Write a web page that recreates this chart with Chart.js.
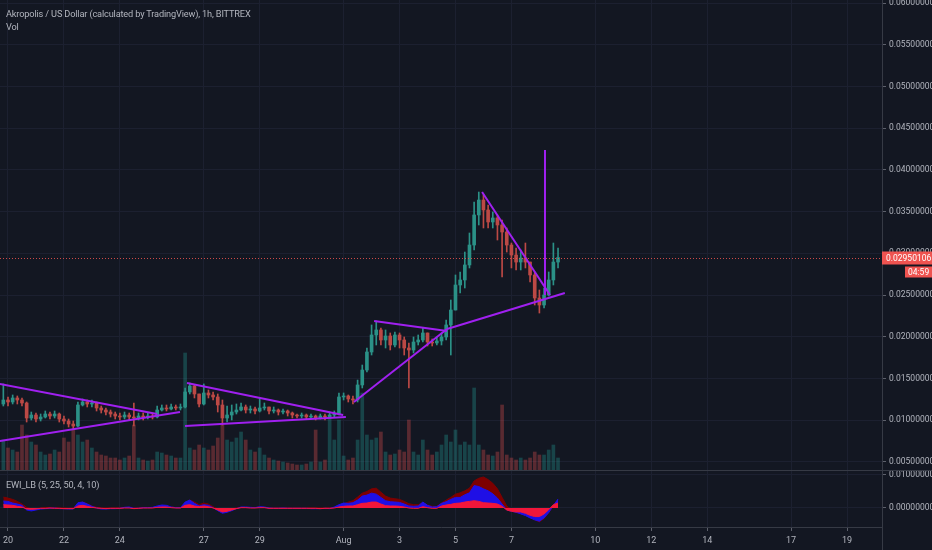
<!DOCTYPE html>
<html>
<head>
<meta charset="utf-8">
<script src="https://cdn.jsdelivr.net/npm/chart.js@4.4.0/dist/chart.umd.min.js"></script>
<style>
  html, body { margin: 0; padding: 0; background: #131722; }
  #wrap { position: relative; width: 932px; height: 550px; overflow: hidden; background: #131722; }
  #priceChart { position: absolute; left: 0; top: 0; }
  #ewiChart { position: absolute; left: 0; top: 471px; }
  .sep { position: absolute; left: 0; top: 470px; width: 932px; height: 1px; background: #363a45; }
  .vline { position: absolute; left: 882px; top: 527px; width: 1px; height: 23px; background: #363a45; }
  .lbl { position: absolute; left: 6px; color: #b2b5be; font-family: "Roboto", sans-serif; font-size: 9.2px; letter-spacing: -0.15px; line-height: 12px; white-space: nowrap; }
</style>
</head>
<body>
<div id="wrap">
  <canvas id="priceChart" width="932" height="470"></canvas>
  <div class="sep"></div>
  <canvas id="ewiChart" width="932" height="79"></canvas>
  <div class="vline"></div>
  <div class="lbl" style="top:8px">Akropolis / US Dollar (calculated by TradingView), 1h, BITTREX</div>
  <div class="lbl" style="top:21px">Vol</div>
  <div class="lbl" style="top:479px">EWI_LB (5, 25, 50, 4, 10)</div>
</div>
<script>
// time axis: days counted from 20 Jul 00:00
var tickDays   = [0, 2, 4, 7, 9, 12, 14, 16, 18, 21, 23, 25, 28, 30];
var tickLabels = ['20', '22', '24', '27', '29', 'Aug', '3', '5', '7', '10', '12', '14', '17', '19'];
var priceTicks = [0.005, 0.01, 0.015, 0.02, 0.025, 0.03, 0.035, 0.04, 0.045, 0.05, 0.055, 0.06];
var ewiTicks   = [0, 10];   // in 1e-3

// candles, 4h apart, first one 19 Jul 20:00
var candleStartDay = -1 / 6;
var candleStepDay = 4 / 24;
var firstOpen = 0.01195;
var closes = [
  0.01243,0.01219,0.01267,0.01243,0.01207,0.01027,0.01063,0.01015,0.01039,0.01075,
  0.01051,0.01075,0.01015,0.00991,0.00955,0.00931,0.01183,0.01219,0.01195,0.01207,
  0.01147,0.01123,0.01099,0.01075,0.01051,0.01039,0.01063,0.01039,0.01027,0.01051,
  0.01039,0.01051,0.01039,0.01123,0.01147,0.01135,0.01159,0.01147,0.01159,0.01339,
  0.01411,0.01315,0.01195,0.01327,0.01303,0.01279,0.01183,0.01027,0.01063,0.01099,
  0.01123,0.01159,0.01123,0.01135,0.01111,0.01147,0.01159,0.01111,0.01123,0.01099,
  0.01111,0.01087,0.01063,0.01051,0.01063,0.01039,0.01051,0.01027,0.01051,0.01039,
  0.01063,0.01075,0.01279,0.01291,0.01255,0.01243,0.01423,0.01602,0.01818,0.02022,
  0.02082,0.01962,0.02010,0.01902,0.02022,0.01962,0.01866,0.01842,0.01938,0.01962,
  0.02046,0.01938,0.01926,0.01950,0.01998,0.02142,0.02321,0.02621,0.02681,0.02861,
  0.03100,0.03460,0.03639,0.03520,0.03376,0.03424,0.03340,0.03256,0.03100,0.02980,
  0.02896,0.02944,0.02896,0.02741,0.02465,0.02381,0.02501,0.02681,0.02896,0.02950
];
var highs = [
  0.01435,0.01279,0.01303,0.01291,0.01267,0.01219,0.01099,0.01087,0.01075,0.01111,
  0.01099,0.01111,0.01087,0.01051,0.01015,0.00991,0.01219,0.01255,0.01243,0.01243,
  0.01219,0.01171,0.01147,0.01123,0.01099,0.01087,0.01099,0.01087,0.01207,0.01087,
  0.01087,0.01087,0.01075,0.01171,0.01183,0.01183,0.01195,0.01183,0.01195,0.01387,
  0.01446,0.01423,0.01315,0.01435,0.01363,0.01339,0.01315,0.01243,0.01171,0.01183,
  0.01195,0.01207,0.01183,0.01171,0.01159,0.01267,0.01207,0.01159,0.01159,0.01135,
  0.01135,0.01123,0.01099,0.01075,0.01087,0.01075,0.01075,0.01063,0.01075,0.01075,
  0.01099,0.01111,0.01327,0.01327,0.01303,0.01291,0.01482,0.01662,0.01866,0.02142,
  0.02189,0.02106,0.02082,0.02046,0.02058,0.02046,0.01998,0.01926,0.01998,0.02022,
  0.02106,0.02046,0.01974,0.01998,0.02046,0.02201,0.02441,0.02741,0.02777,0.03016,
  0.03244,0.03615,0.03735,0.03699,0.03580,0.03496,0.03460,0.03400,0.03304,0.03124,
  0.03064,0.03040,0.03124,0.02896,0.02777,0.02561,0.02585,0.02777,0.03124,0.03064
];
var lows = [
  0.01171,0.01171,0.01195,0.01195,0.01171,0.00979,0.01003,0.00979,0.00991,0.01027,
  0.01015,0.01027,0.00979,0.00955,0.00919,0.00895,0.00919,0.01171,0.01159,0.01159,
  0.01111,0.01087,0.01063,0.01039,0.01015,0.01003,0.01015,0.01003,0.00931,0.01003,
  0.01003,0.01015,0.01015,0.01027,0.01111,0.01111,0.01123,0.01123,0.01123,0.01147,
  0.01315,0.01267,0.01159,0.01183,0.01267,0.01243,0.01099,0.00943,0.00979,0.01003,
  0.01075,0.01111,0.01087,0.01087,0.01075,0.01099,0.01123,0.01075,0.01087,0.01063,
  0.01075,0.01051,0.01027,0.01027,0.01027,0.01015,0.01015,0.01003,0.01015,0.01003,
  0.01027,0.01039,0.01063,0.01243,0.01219,0.01195,0.01219,0.01387,0.01578,0.01782,
  0.01902,0.01902,0.01866,0.01842,0.01878,0.01866,0.01782,0.01387,0.01806,0.01902,
  0.01938,0.01890,0.01890,0.01902,0.01902,0.01962,0.01782,0.02321,0.02525,0.02585,
  0.02825,0.03040,0.03340,0.03304,0.03304,0.03304,0.03160,0.02717,0.03016,0.02825,
  0.02801,0.02801,0.02825,0.02657,0.02381,0.02285,0.02345,0.02489,0.02621,0.02825
];
// volume, thousands
var volumes = [
  30,22,20,18,45,35,28,25,18,15,
  16,20,18,32,28,40,35,28,30,22,
  18,15,14,12,12,10,12,14,45,12,
  10,9,10,18,17,15,14,12,12,117,
  22,20,25,22,20,24,32,45,30,28,
  32,38,30,20,18,22,15,12,10,9,
  8,7,6,5,5,6,8,40,8,10,
  55,30,50,14,10,12,30,77,35,30,
  32,38,18,15,16,20,18,50,18,15,
  30,20,15,18,25,35,28,40,25,28,
  25,82,25,20,15,14,18,65,15,12,
  10,12,10,12,18,15,15,20,25,12
];
var volMax = 470;

// EWI_LB lines, in 1e-3
var ewiDark = [
  3.3,3.0,2.6,2.0,1.2,0.2,-0.3,-0.2,0.0,0.1,
  0.1,0.1,0.0,0.0,-0.1,0.0,1.2,1.8,1.3,0.6,
  0.2,0,0,0,0,0,0.1,0.1,0,0,
  0.1,0.1,0.1,0.4,0.7,0.6,0.3,0.1,0.1,1.5,
  2.4,1.8,1.0,1.5,1.2,0.4,-0.3,-0.8,-0.6,-0.3,
  0,0.2,0.2,0.1,0.1,0.3,0.2,0,0,0,
  0,0,0,0,0,0,0,0,0,0,
  0,0.1,0.6,1.2,1.8,2.2,3.3,4.5,5.0,5.8,
  6.0,4.8,3.6,3.0,2.8,2.6,2.0,1.3,1.0,1.0,
  1.6,0.9,0.5,0.5,1.5,2.4,3.2,4.2,4.6,5.2,
  6.0,8.2,9.0,9.4,8.6,7.5,5.8,3.2,0.6,-0.5,
  -0.8,-1.0,-1.6,-2.6,-3.6,-4.2,-3.2,-1.4,0.6,1.8
];
var ewiBlue = [
  2.1,2.0,1.5,1.2,0.8,-0.6,-0.9,-0.6,-0.3,-0.2,
  -0.1,0,-0.2,-0.2,-0.3,-0.3,1.6,1.8,1.2,0.5,
  0,-0.3,-0.3,-0.2,-0.2,-0.1,0.2,0.3,-0.1,-0.1,
  0.1,0.1,0.2,0.6,0.9,0.8,0.3,0.1,0.1,1.8,
  2.4,1.4,0.6,1.0,0.8,0.1,-0.8,-1.6,-1.3,-0.8,
  -0.2,0.3,0.3,0.2,0.1,0.4,0.3,0,-0.1,-0.1,
  0,-0.1,-0.1,-0.1,-0.1,-0.1,-0.2,-0.2,-0.2,-0.1,
  -0.2,0.3,1.0,1.5,1.4,1.6,2.4,3.6,3.9,4.5,
  4.2,3.2,2.2,1.9,1.8,1.7,1.2,0.6,0.5,0.6,
  1.8,0.8,0.3,0.4,1.4,1.9,2.6,3.2,3.2,4.0,
  4.6,6.8,6.5,5.8,5.2,4.3,3.0,1.2,-0.6,-1.0,
  -1.3,-1.8,-2.3,-3.0,-3.6,-4.0,-3.0,-1.4,0.8,2.7
];
var ewiRed = [
  1.0,0.9,0.8,0.5,0.3,-0.3,-0.4,-0.3,-0.1,-0.1,
  0,-0.1,-0.1,-0.2,-0.2,-0.2,0.6,0.8,0.5,0.2,
  0,-0.1,-0.2,-0.1,-0.1,-0.1,0,0,-0.2,-0.1,
  0,0,0,0.2,0.3,0.3,0.1,0,0,0.8,
  1.0,0.6,0.4,0.6,0.4,0,-0.6,-1.2,-1.0,-0.6,
  -0.2,0.1,0.1,0,0,0.1,0.1,-0.1,-0.1,-0.1,
  -0.1,-0.1,-0.1,-0.1,-0.1,-0.1,-0.1,-0.1,-0.2,-0.1,
  -0.1,0,0.3,0.5,0.6,0.6,1.0,1.4,1.5,1.8,
  1.8,1.2,0.7,0.6,0.6,0.5,0.3,0,-0.1,-0.1,
  0.4,0.1,-0.1,-0.1,0.6,0.9,1.1,1.4,1.5,1.8,
  2.0,2.2,2.0,1.6,1.5,1.4,1.2,0.5,-0.6,-1.0,
  -1.2,-1.2,-1.6,-2.2,-2.6,-2.6,-1.8,-0.5,1.0,1.5
];

// drawn trend lines: [day1, price1, day2, price2]
var trendLines = [
  [-0.29, 0.01434, 5.33, 0.01075],
  [-0.29, 0.00751, 6.15, 0.01099],
  [6.40, 0.01446, 11.98, 0.01063],
  [6.33, 0.00931, 12.08, 0.01039],
  [12.37, 0.01219, 15.70, 0.02093],
  [13.09, 0.02189, 15.70, 0.02070],
  [15.70, 0.02093, 19.91, 0.02525],
  [16.95, 0.03735, 19.38, 0.02501],
  [19.20, 0.04240, 19.20, 0.02500]
];
var lastPrice = 0.02950106;
var countdown = '04:59';

var gridColor = '#1c2030';
var textColor = '#b2b5be';
var axisFont = { family: "'Roboto', sans-serif", size: 8.5 };
var upColor = '#2b9187', downColor = '#bc4945';
var upVol = 'rgba(38,166,154,0.32)', downVol = 'rgba(239,83,80,0.32)';
var trendColor = '#a020f0';
var xMin = -0.286, xMax = 31.25;

var wickData = [], bodyData = [], volData = [], upFlags = [];
for (var i = 0; i < closes.length; i++) {
  var t = candleStartDay + i * candleStepDay;
  var o = i === 0 ? firstOpen : closes[i - 1];
  upFlags.push(closes[i] >= o);
  wickData.push({ x: t, y: [lows[i], highs[i]] });
  bodyData.push({ x: t, y: [o, closes[i]] });
  volData.push({ x: t, y: volumes[i] });
}
function candleColor(ctx) { return upFlags[ctx.dataIndex] ? upColor : downColor; }
function volColor(ctx) { return upFlags[ctx.dataIndex] ? upVol : downVol; }

var datasets = trendLines.map(function (l) {
  return {
    type: 'line', data: [{ x: l[0], y: l[1] }, { x: l[2], y: l[3] }],
    borderColor: trendColor, borderWidth: 2, pointRadius: 0, fill: false, order: 0
  };
});
datasets.push({ data: bodyData, backgroundColor: candleColor, barThickness: 3, minBarLength: 1, grouped: false, order: 1 });
datasets.push({ data: wickData, backgroundColor: candleColor, barThickness: 1, grouped: false, order: 2 });
datasets.push({ data: volData, yAxisID: 'yv', backgroundColor: volColor, barThickness: 3, grouped: false, order: 3 });

var lastPricePlugin = {
  id: 'lastPrice',
  afterDraw: function (chart) {
    var c = chart.ctx, area = chart.chartArea;
    var y = Math.round(chart.scales.y.getPixelForValue(lastPrice)) + 0.5;
    c.save();
    c.strokeStyle = 'rgba(239,83,80,0.85)';
    c.lineWidth = 1;
    c.setLineDash([1, 2]);
    c.beginPath(); c.moveTo(area.left, y); c.lineTo(area.right, y); c.stroke();
    c.setLineDash([]);
    c.fillStyle = '#ef5350';
    c.fillRect(area.right, y - 7, 50, 13);
    c.fillRect(area.right + 23, y + 8, 27, 11);
    c.fillStyle = '#ffffff';
    c.font = "8.5px 'Roboto', sans-serif";
    c.textBaseline = 'middle';
    c.fillText(lastPrice.toFixed(8), area.right + 4, y);
    c.fillText(countdown, area.right + 26, y + 14);
    c.restore();
  }
};

function fixWidth(s) { s.width = 50; s.paddingTop = 0; s.paddingBottom = 0; }

new Chart(document.getElementById('priceChart'), {
  type: 'bar',
  data: { datasets: datasets },
  options: {
    responsive: false, animation: false, devicePixelRatio: 1,
    layout: { padding: 0 },
    plugins: { legend: { display: false }, tooltip: { enabled: false } },
    scales: {
      x: {
        type: 'linear', min: xMin, max: xMax, offset: false,
        afterBuildTicks: function (s) { s.ticks = tickDays.map(function (v) { return { value: v }; }); },
        ticks: { display: false },
        grid: { color: gridColor, drawTicks: false, offset: false },
        border: { display: false },
        afterFit: function (s) { s.height = 0; s.paddingLeft = 0; s.paddingRight = 0; }
      },
      y: {
        position: 'right', min: 0.00404, max: 0.06036,
        afterBuildTicks: function (s) { s.ticks = priceTicks.map(function (v) { return { value: v }; }); },
        ticks: { color: textColor, font: axisFont, padding: 3, autoSkip: false, callback: function (v) { return v.toFixed(8); } },
        grid: { color: gridColor, tickLength: 4, tickColor: '#5d606b' },
        border: { color: '#363a45' },
        afterFit: fixWidth
      },
      yv: { display: false, min: 0, max: volMax }
    }
  },
  plugins: [lastPricePlugin]
});

function ewiSeries(vals) {
  return vals.map(function (v, i) { return { x: candleStartDay + i * candleStepDay, y: v }; });
}

new Chart(document.getElementById('ewiChart'), {
  type: 'line',
  data: {
    datasets: [
      { data: ewiSeries(ewiRed), borderColor: '#f2163a', backgroundColor: '#f2163a', fill: 'origin', borderWidth: 1, pointRadius: 0, order: 0 },
      { data: ewiSeries(ewiBlue), borderColor: '#1f0fe6', backgroundColor: '#1f0fe6', fill: 'origin', borderWidth: 1, pointRadius: 0, order: 1 },
      { data: ewiSeries(ewiDark), borderColor: '#7d0000', backgroundColor: '#7d0000', fill: 'origin', borderWidth: 1, pointRadius: 0, order: 2 }
    ]
  },
  options: {
    responsive: false, animation: false, devicePixelRatio: 1,
    layout: { padding: 0 },
    plugins: { legend: { display: false }, tooltip: { enabled: false } },
    scales: {
      x: {
        type: 'linear', min: xMin, max: xMax,
        afterBuildTicks: function (s) { s.ticks = tickDays.map(function (v) { return { value: v }; }); },
        ticks: { color: textColor, font: { family: "'Roboto', sans-serif", size: 9 }, padding: 4, autoSkip: false, maxRotation: 0,
          callback: function (v, idx) { return tickLabels[idx]; } },
        grid: { color: gridColor, tickLength: 4, tickColor: '#5d606b' },
        border: { color: '#363a45' },
        afterFit: function (s) { s.height = 23; s.paddingLeft = 0; s.paddingRight = 0; }
      },
      y: {
        position: 'right', min: -5.76, max: 11.21,
        afterBuildTicks: function (s) { s.ticks = ewiTicks.map(function (v) { return { value: v }; }); },
        ticks: { color: textColor, font: axisFont, padding: 3, autoSkip: false,
          callback: function (v) { return (v * 0.001).toFixed(8); } },
        grid: { color: gridColor, tickLength: 4, tickColor: '#5d606b' },
        border: { color: '#363a45' },
        afterFit: fixWidth
      }
    }
  }
});
</script>
</body>
</html>
